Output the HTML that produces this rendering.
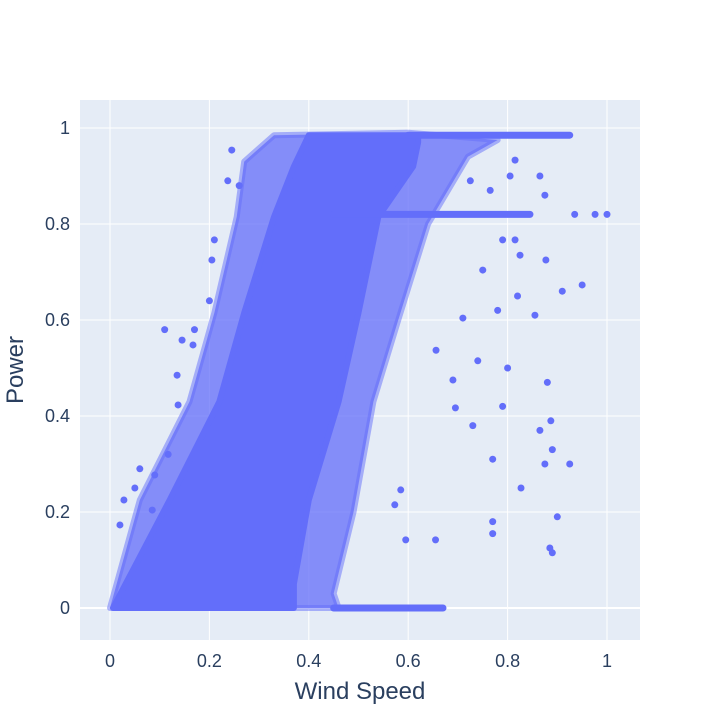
<!DOCTYPE html>
<html><head><meta charset="utf-8"><style>
body{margin:0;background:#fff;font-family:"Liberation Sans",sans-serif}
text{font-family:"Liberation Sans",sans-serif;fill:#2a3f5f}
</style></head><body>
<svg id="chart" width="720" height="720" viewBox="0 0 720 720">
<rect x="80" y="100" width="560" height="540" fill="#E5ECF6"/>
<g id="grid"></g>
<g id="marks"></g>
<g id="ticks"></g>
<text x="360" y="699" text-anchor="middle" font-size="24">Wind Speed</text>
<text transform="translate(23,370) rotate(-90)" text-anchor="middle" font-size="24">Power</text>
</svg>
<script>
const xTicks=[0,0.2,0.4,0.6,0.8,1];
const xTickLabels=["0","0.2","0.4","0.6","0.8","1"];
const yTicks=[0,0.2,0.4,0.6,0.8,1];
const yTickLabels=["0","0.2","0.4","0.6","0.8","1"];
// sparse fringe envelope (data coords)
const fringeX=[0,0.06,0.16,0.21,0.255,0.27,0.33,0.6,0.78,0.72,0.64,0.58,0.53,0.49,0.45,0.46,0];
const fringeY=[0,0.225,0.43,0.615,0.815,0.93,0.985,0.99,0.975,0.94,0.8,0.6,0.43,0.2,0.03,0,0];
// dense core boundary (data coords)
const bandX=[0.006,0.12,0.22,0.27,0.33,0.37,0.40,0.62,0.62,0.61,0.54,0.50,0.46,0.40,0.37,0.37,0.006];
const bandY=[0.0,0.225,0.43,0.615,0.815,0.92,0.985,0.985,0.97,0.92,0.815,0.615,0.43,0.225,0.05,0,0];
// horizontal dense streaks
const streakX0=[0.45,0.38,0.6,0.45];
const streakX1=[0.845,0.435,0.925,0.67];
const streakY=[0.82,0.648,0.985,0];
const ptX=[1.0,0.976,0.935,0.95,0.91,0.925,0.9,0.885,0.89,0.88,0.887,0.89,0.875,0.865,0.827,0.79,0.78,0.77,0.77,0.77,0.73,0.695,0.80,0.74,0.656,0.877,0.855,0.82,0.825,0.815,0.79,0.75,0.71,0.69,0.595,0.655,0.585,0.573,0.815,0.875,0.865,0.805,0.765,0.725,0.11,0.145,0.167,0.17,0.2,0.205,0.21,0.237,0.245,0.26,0.137,0.135,0.085,0.02,0.028,0.05,0.09,0.117,0.06];
const ptY=[0.82,0.82,0.82,0.673,0.66,0.30,0.19,0.125,0.115,0.47,0.39,0.33,0.30,0.37,0.25,0.42,0.62,0.31,0.18,0.155,0.38,0.417,0.50,0.515,0.537,0.725,0.61,0.65,0.735,0.767,0.767,0.704,0.604,0.475,0.142,0.142,0.246,0.215,0.933,0.86,0.9,0.9,0.87,0.89,0.58,0.558,0.548,0.58,0.64,0.725,0.767,0.89,0.954,0.88,0.423,0.485,0.204,0.173,0.225,0.25,0.277,0.32,0.29];
const NS="http://www.w3.org/2000/svg";
const sx=v=>110+v*497, sy=v=>608-v*480;
const C="#636EFA";
function mk(t,a,p){const e=document.createElementNS(NS,t);for(const k in a)e.setAttribute(k,a[k]);p.appendChild(e);return e;}
const grid=document.getElementById('grid'),marks=document.getElementById('marks'),ticks=document.getElementById('ticks');
xTicks.forEach((v,i)=>{const l=mk('line',{x1:sx(v),x2:sx(v),y1:100,y2:640,stroke:'#fff','stroke-width':1},grid);

const t=mk('text',{x:sx(v),y:667,'text-anchor':'middle','font-size':18},ticks);t.textContent=xTickLabels[i];
});
yTicks.forEach((v,i)=>{const l=mk('line',{x1:80,x2:640,y1:sy(v),y2:sy(v),stroke:'#fff','stroke-width':v===0?2:1},grid);

const t=mk('text',{x:70,y:sy(v)+6,'text-anchor':'end','font-size':18},ticks);t.textContent=yTickLabels[i];
});
const fp=fringeX.map((x,i)=>sx(x)+','+sy(fringeY[i])).join(' ');
const fr=mk('polygon',{points:fp,fill:C,'fill-opacity':0.75,stroke:C,'stroke-opacity':0.5,'stroke-width':6,'stroke-linejoin':'round'},marks);

const pts=bandX.map((x,i)=>sx(x)+','+sy(bandY[i])).join(' ');
const band=mk('polygon',{points:pts,fill:C,stroke:C,'stroke-width':6,'stroke-linejoin':'round'},marks);

streakY.forEach((y,i)=>{const s=mk('line',{x1:sx(streakX0[i]),x2:sx(streakX1[i]),y1:sy(y),y2:sy(y),stroke:C,'stroke-width':7,'stroke-linecap':'round'},marks);
});
ptX.forEach((x,i)=>{const c=mk('circle',{cx:sx(x),cy:sy(ptY[i]),r:3.5,fill:C},marks);
});
</script>
</body></html>
